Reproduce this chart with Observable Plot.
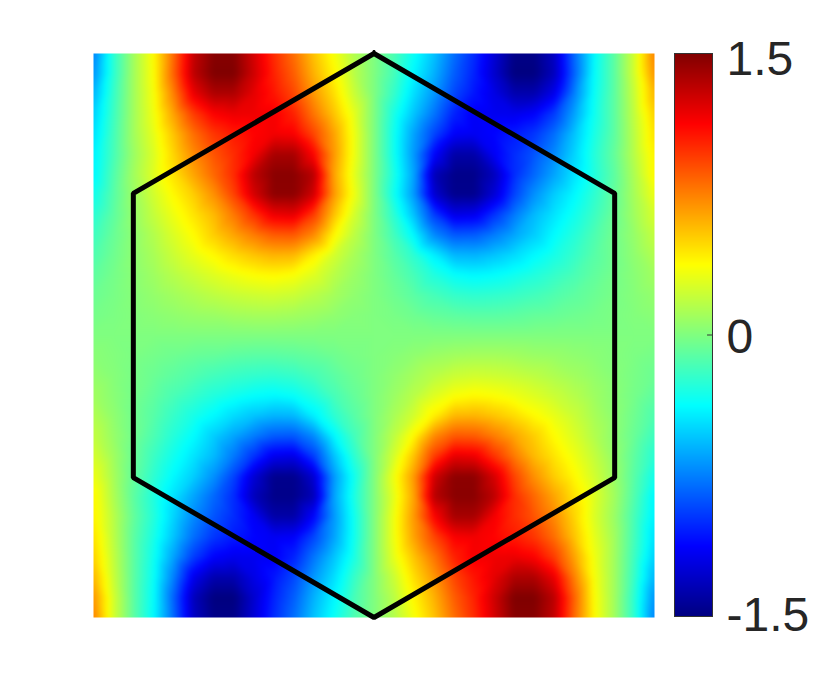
<!DOCTYPE html>
<html><head><meta charset="utf-8">
<style>html,body{margin:0;padding:0;background:#fff}#c{position:relative;width:830px;height:694px;overflow:hidden}#c svg{position:absolute;left:0;top:0;background:transparent}</style>
<script src="https://cdn.jsdelivr.net/npm/d3@7"></script>
<script src="https://cdn.jsdelivr.net/npm/@observablehq/plot@0.6"></script>
</head><body><div id="c"></div>
<script>
const xGrid = [-1,-0.929,-0.857,-0.786,-0.714,-0.643,-0.571,-0.5,-0.429,-0.357,-0.286,-0.214,-0.143,-0.071,0,0.071,0.143,0.214,0.286,0.357,0.429,0.5,0.571,0.643,0.714,0.786,0.857,0.929,1];
const yGrid = [1,0.929,0.857,0.786,0.714,0.643,0.571,0.5,0.429,0.357,0.286,0.214,0.143,0.071,0,-0.071,-0.143,-0.214,-0.286,-0.357,-0.429,-0.5,-0.571,-0.643,-0.714,-0.786,-0.857,-0.929,-1];
const field = [
[-.75,-.25,.10,.38,.82,1.30,1.48,1.48,1.25,1.00,.80,.55,.35,.15,0,-.15,-.35,-.55,-.80,-1.00,-1.25,-1.48,-1.48,-1.30,-.82,-.38,-.10,.25,.75],
[-.70,-.25,.10,.37,.84,1.32,1.50,1.50,1.27,1.03,.85,.60,.40,.17,0,-.17,-.40,-.60,-.85,-1.03,-1.27,-1.50,-1.50,-1.32,-.84,-.37,-.10,.25,.70],
[-.60,-.22,.10,.35,.75,1.18,1.36,1.36,1.20,1.07,.92,.68,.47,.22,0,-.22,-.47,-.68,-.92,-1.07,-1.20,-1.36,-1.36,-1.18,-.75,-.35,-.10,.22,.60],
[-.52,-.20,.10,.33,.65,.95,1.13,1.18,1.17,1.15,1.03,.78,.55,.30,0,-.30,-.55,-.78,-1.03,-1.15,-1.17,-1.18,-1.13,-.95,-.65,-.33,-.10,.20,.52],
[-.47,-.18,.10,.30,.55,.80,.97,1.05,1.12,1.16,1.14,.92,.65,.33,0,-.33,-.65,-.92,-1.14,-1.16,-1.12,-1.05,-.97,-.80,-.55,-.30,-.10,.18,.47],
[-.42,-.17,.08,.27,.50,.72,.88,1.00,1.15,1.38,1.38,1.12,.68,.33,0,-.33,-.68,-1.12,-1.38,-1.38,-1.15,-1.00,-.88,-.72,-.50,-.27,-.08,.17,.42],
[-.40,-.14,.10,.28,.46,.64,.82,1.00,1.32,1.47,1.47,1.33,.65,.30,0,-.30,-.65,-1.33,-1.47,-1.47,-1.32,-1.00,-.82,-.64,-.46,-.28,-.10,.14,.40],
[-.33,-.12,.08,.24,.39,.52,.70,.93,1.25,1.46,1.46,1.26,.68,.33,0,-.33,-.68,-1.26,-1.46,-1.46,-1.25,-.93,-.70,-.52,-.39,-.24,-.08,.12,.33],
[-.26,-.10,.06,.20,.33,.45,.58,.77,.98,1.18,1.20,.95,.56,.25,0,-.25,-.56,-.95,-1.20,-1.18,-.98,-.77,-.58,-.45,-.33,-.20,-.06,.10,.26],
[-.20,-.07,.04,.15,.27,.38,.52,.64,.76,.86,.87,.72,.40,.18,0,-.18,-.40,-.72,-.87,-.86,-.76,-.64,-.52,-.38,-.27,-.15,-.04,.07,.20],
[-.15,-.05,.04,.12,.22,.31,.39,.48,.55,.60,.59,.42,.25,.12,0,-.12,-.25,-.42,-.59,-.60,-.55,-.48,-.39,-.31,-.22,-.12,-.04,.05,.15],
[-.10,-.03,.03,.09,.16,.22,.28,.33,.37,.39,.36,.28,.17,.08,0,-.08,-.17,-.28,-.36,-.39,-.37,-.33,-.28,-.22,-.16,-.09,-.03,.03,.10],
[-.06,-.02,.02,.06,.10,.14,.18,.21,.23,.24,.22,.17,.11,.05,0,-.05,-.11,-.17,-.22,-.24,-.23,-.21,-.18,-.14,-.10,-.06,-.02,.02,.06],
[-.03,-.01,.01,.03,.05,.07,.08,.10,.11,.11,.10,.08,.05,.02,0,-.02,-.05,-.08,-.10,-.11,-.11,-.10,-.08,-.07,-.05,-.03,-.01,.01,.03],
[0,0,0,0,0,0,0,0,0,0,0,0,0,0,0,0,0,0,0,0,0,0,0,0,0,0,0,0,0],
[.03,.01,-.01,-.03,-.05,-.07,-.08,-.10,-.11,-.11,-.10,-.08,-.05,-.02,0,.02,.05,.08,.10,.11,.11,.10,.08,.07,.05,.03,.01,-.01,-.03],
[.06,.02,-.02,-.06,-.10,-.14,-.18,-.21,-.23,-.24,-.22,-.17,-.11,-.05,0,.05,.11,.17,.22,.24,.23,.21,.18,.14,.10,.06,.02,-.02,-.06],
[.10,.03,-.03,-.09,-.16,-.22,-.28,-.33,-.37,-.39,-.36,-.28,-.17,-.08,0,.08,.17,.28,.36,.39,.37,.33,.28,.22,.16,.09,.03,-.03,-.10],
[.15,.05,-.04,-.12,-.22,-.31,-.39,-.48,-.55,-.60,-.59,-.42,-.25,-.12,0,.12,.25,.42,.59,.60,.55,.48,.39,.31,.22,.12,.04,-.05,-.15],
[.20,.07,-.04,-.15,-.27,-.38,-.52,-.64,-.76,-.86,-.87,-.72,-.40,-.18,0,.18,.40,.72,.87,.86,.76,.64,.52,.38,.27,.15,.04,-.07,-.20],
[.26,.10,-.06,-.20,-.33,-.45,-.58,-.77,-.98,-1.18,-1.20,-.95,-.56,-.25,0,.25,.56,.95,1.20,1.18,.98,.77,.58,.45,.33,.20,.06,-.10,-.26],
[.33,.12,-.08,-.24,-.39,-.52,-.70,-.93,-1.25,-1.46,-1.46,-1.26,-.68,-.33,0,.33,.68,1.26,1.46,1.46,1.25,.93,.70,.52,.39,.24,.08,-.12,-.33],
[.40,.14,-.10,-.28,-.46,-.64,-.82,-1.00,-1.32,-1.47,-1.47,-1.33,-.65,-.30,0,.30,.65,1.33,1.47,1.47,1.32,1.00,.82,.64,.46,.28,.10,-.14,-.40],
[.42,.17,-.08,-.27,-.50,-.72,-.88,-1.00,-1.15,-1.38,-1.38,-1.12,-.68,-.33,0,.33,.68,1.12,1.38,1.38,1.15,1.00,.88,.72,.50,.27,.08,-.17,-.42],
[.47,.18,-.10,-.30,-.55,-.80,-.97,-1.05,-1.12,-1.16,-1.14,-.92,-.65,-.33,0,.33,.65,.92,1.14,1.16,1.12,1.05,.97,.80,.55,.30,.10,-.18,-.47],
[.52,.20,-.10,-.33,-.65,-.95,-1.13,-1.18,-1.17,-1.15,-1.03,-.78,-.55,-.30,0,.30,.55,.78,1.03,1.15,1.17,1.18,1.13,.95,.65,.33,.10,-.20,-.52],
[.60,.22,-.10,-.35,-.75,-1.18,-1.36,-1.36,-1.20,-1.07,-.92,-.68,-.47,-.22,0,.22,.47,.68,.92,1.07,1.20,1.36,1.36,1.18,.75,.35,.10,-.22,-.60],
[.70,.25,-.10,-.37,-.84,-1.32,-1.50,-1.50,-1.27,-1.03,-.85,-.60,-.40,-.17,0,.17,.40,.60,.85,1.03,1.27,1.50,1.50,1.32,.84,.37,.10,-.25,-.70],
[.75,.25,-.10,-.38,-.82,-1.30,-1.48,-1.48,-1.25,-1.00,-.80,-.55,-.35,-.15,0,.15,.35,.55,.80,1.00,1.25,1.48,1.48,1.30,.82,.38,.10,-.25,-.75]
];
const hexX = [0,0.858,0.858,0,-0.858,-0.858,0];
const hexY = [1,0.504,-0.504,-1,-0.504,0.504,1];
const colorStops = [-1.5,-1.125,-0.375,0.375,1.125,1.5];
const colorRange = ["#000080","#0000ff","#00ffff","#ffff00","#ff0000","#800000"];
const barTicks = [1.5,0,-1.5];
const barLabels = ["1.5","0","-1.5"];
const barLabelShift = [6,3,-1];

const color = {type:"linear",domain:colorStops,range:colorRange,interpolate:"rgb",clamp:true};
const cells = field.flatMap((row,i)=>row.map((v,j)=>({x:xGrid[j],y:yGrid[i],v})));
const hex = hexX.map((x,i)=>({x,y:hexY[i]}));

const main = Plot.plot({
  width:830,height:694,marginLeft:93,marginRight:176,marginTop:53,marginBottom:77,
  x:{domain:[-1,1],axis:null},y:{domain:[-1,1],axis:null},color,
  marks:[
    Plot.raster(cells,{x:"x",y:"y",fill:"v",x1:-1,x2:1,y1:-1,y2:1,interpolate:"barycentric",pixelSize:1,blur:2}),
    Plot.line(hex,{x:"x",y:"y",stroke:"#000",strokeWidth:5,strokeLinejoin:"miter",strokeLinecap:"square",clip:false})
  ]
});
const ticks = barTicks.map((t,i)=>({t,label:barLabels[i],shift:barLabelShift[i]}));
const bar = Plot.plot({
  width:830,height:694,marginLeft:674,marginRight:118,marginTop:53,marginBottom:78,
  x:{domain:[0,1],axis:null},y:{domain:[-1.5,1.5],axis:null},color,
  marks:[
    Plot.raster({fill:(x,y)=>y,x1:0,x2:1,y1:-1.5,y2:1.5,pixelSize:1}),
    Plot.frame({stroke:"#333",strokeWidth:1}),
    Plot.ruleY(ticks,{y:"t",x1:0.87,x2:1,stroke:"#333",strokeWidth:1}),
    ...ticks.map(d=>Plot.text([d],{x:()=>1,y:"t",text:"label",dx:14,dy:d.shift,textAnchor:"start",fontSize:48,fontFamily:"Liberation Sans, Arial, sans-serif",fill:"#262626",clip:false}))
  ]
});
const c=document.getElementById("c");
c.append(main,bar);
</script></body></html>
